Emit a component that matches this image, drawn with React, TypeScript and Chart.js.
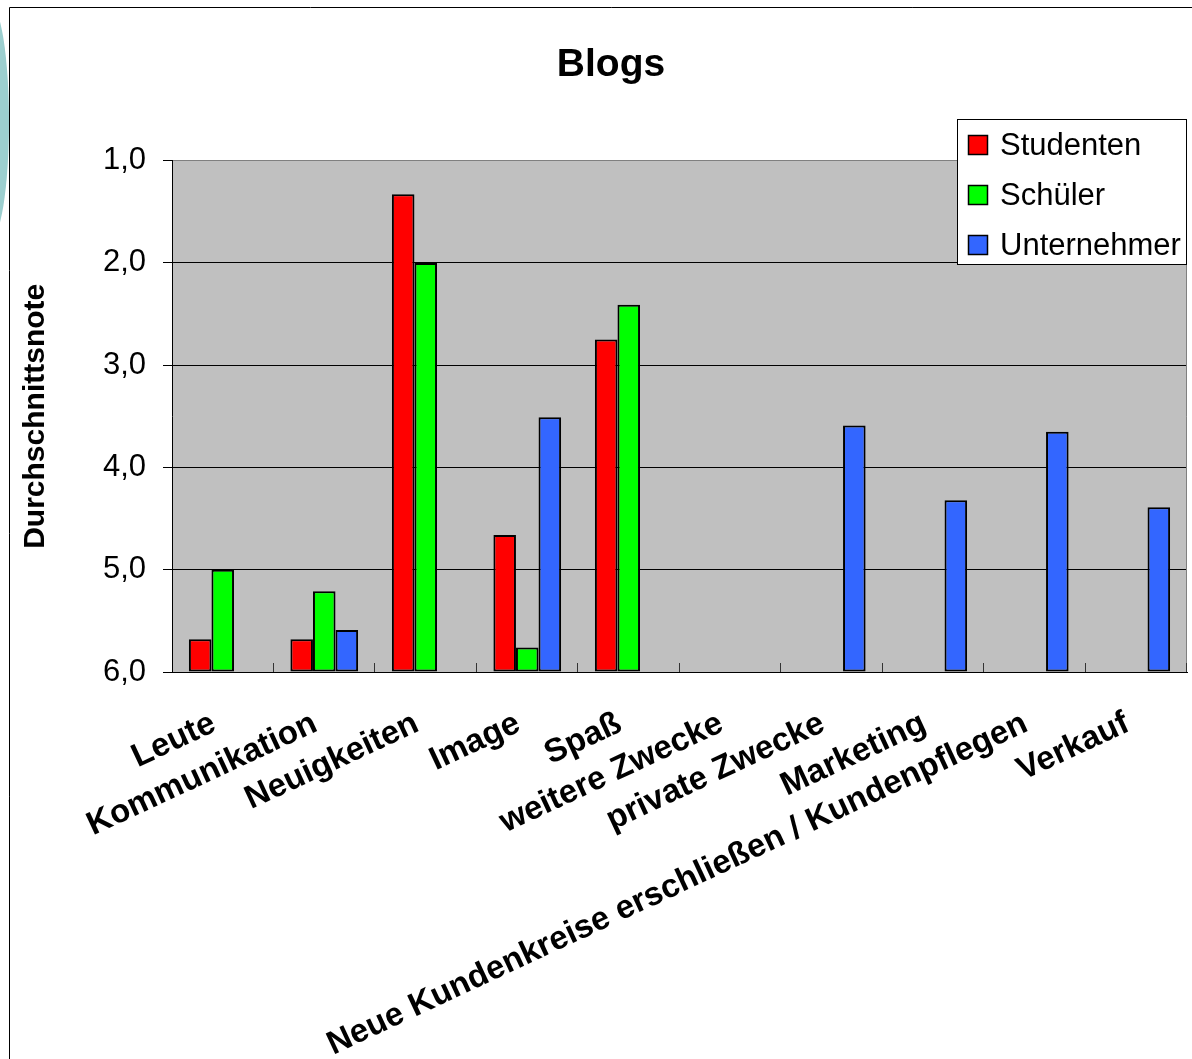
import React, { useEffect, useRef } from 'react';
import { Chart, registerables } from 'chart.js';

Chart.register(...registerables);

const categories = [
  'Leute',
  'Kommunikation',
  'Neuigkeiten',
  'Image',
  'Spaß',
  'weitere Zwecke',
  'private Zwecke',
  'Marketing',
  'Neue Kundenkreise erschließen / Kundenpflegen',
  'Verkauf',
];
const seriesNames = ['Studenten', 'Schüler', 'Unternehmer'];
const studenten = [5.68, 5.68, 1.33, 4.66, 2.75, null, null, null, null, null];
const schueler = [5.0, 5.21, 2.0, 5.76, 2.41, null, null, null, null, null];
const unternehmer = [null, 5.59, null, 3.51, null, null, 3.59, 4.32, 3.65, 4.39];
const seriesColors = ['#FF0000', '#00FF00', '#3366FF'];
const yMin = 1;
const yMax = 6;
const yStep = 1;

const FONT = 'Arial, "Liberation Sans", Helvetica, sans-serif';

const framePlugin = {
  id: 'frame',
  beforeDraw(chart: any) {
    const { ctx, chartArea, width, height } = chart;
    ctx.save();
    ctx.fillStyle = '#FFFFFF';
    ctx.fillRect(0, 0, width, height);
    ctx.strokeStyle = '#000000';
    ctx.lineWidth = 1;
    ctx.beginPath();
    ctx.moveTo(0.5, height);
    ctx.lineTo(0.5, 0.5);
    ctx.lineTo(width, 0.5);
    ctx.stroke();
    ctx.fillStyle = '#C0C0C0';
    ctx.fillRect(chartArea.left, chartArea.top, chartArea.right - chartArea.left, chartArea.bottom - chartArea.top);
    ctx.restore();
  },
  beforeDatasetsDraw(chart: any) {
    const { ctx, chartArea, scales } = chart;
    const x = scales.x;
    ctx.save();
    ctx.strokeStyle = '#808080';
    ctx.lineWidth = 1;
    ctx.beginPath();
    ctx.moveTo(chartArea.right - 0.5, chartArea.top);
    ctx.lineTo(chartArea.right - 0.5, chartArea.bottom);
    ctx.stroke();
    // inside tick marks between categories
    const n = x.ticks.length;
    const step = (x.right - x.left) / n;
    ctx.strokeStyle = '#333333';
    ctx.beginPath();
    for (let i = 1; i <= n; i++) {
      const px = Math.round(x.left + i * step) - 0.5;
      ctx.moveTo(px, chartArea.bottom);
      ctx.lineTo(px, chartArea.bottom - 9);
    }
    ctx.stroke();
    ctx.restore();
  },
  afterDraw(chart: any) {
    const { ctx } = chart;
    const box = { left: 948, top: 112, right: 1178, bottom: 258 };
    ctx.save();
    ctx.fillStyle = '#FFFFFF';
    ctx.fillRect(box.left, box.top, box.right - box.left, box.bottom - box.top);
    ctx.strokeStyle = '#000000';
    ctx.lineWidth = 1;
    ctx.strokeRect(box.left + 0.5, box.top + 0.5, box.right - box.left - 1, box.bottom - box.top - 1);
    ctx.font = `31px ${FONT}`;
    ctx.textBaseline = 'middle';
    ctx.textAlign = 'left';
    chart.data.datasets.forEach((ds: any, i: number) => {
      const cy = 138 + i * 50;
      ctx.fillStyle = ds.backgroundColor;
      ctx.fillRect(959, cy - 10, 20, 20);
      ctx.strokeStyle = '#000000';
      ctx.lineWidth = 1.5;
      ctx.strokeRect(959.5, cy - 9.5, 19, 19);
      ctx.fillStyle = '#000000';
      ctx.fillText(ds.label, 991, cy + 1);
    });
    ctx.restore();
  },
};

export default function App() {
  const canvasRef = useRef<HTMLCanvasElement | null>(null);

  useEffect(() => {
    if (!canvasRef.current) return;
    Chart.defaults.font.family = FONT;
    const seriesData = [studenten, schueler, unternehmer];
    const chart = new Chart(canvasRef.current, {
      type: 'bar',
      data: {
        labels: categories,
        datasets: seriesNames.map((name, i) => ({
          label: name,
          data: seriesData[i] as any,
          backgroundColor: seriesColors[i],
          borderColor: '#000000',
          borderWidth: 2,
          borderSkipped: false,
          base: yMax,
          categoryPercentage: 0.667,
          barPercentage: 1,
        })),
      },
      options: {
        animation: false,
        responsive: false,
        events: [],
        layout: { padding: { left: 0, right: 0, top: 0, bottom: 0 } },
        plugins: {
          legend: { display: false },
          tooltip: { enabled: false },
          title: {
            display: true,
            text: 'Blogs',
            color: '#000000',
            font: { family: FONT, size: 39, weight: 'bold' },
            padding: { top: 35, bottom: 71.8 },
          },
        },
        scales: {
          x: {
            type: 'category',
            offset: true,
            grid: { display: false, drawTicks: false, offset: true },
            border: { display: true, color: '#000000', width: 1 },
            ticks: {
              autoSkip: false,
              minRotation: 25,
              maxRotation: 25,
              padding: 32,
              labelOffset: -9,
              color: '#000000',
              font: { family: FONT, size: 33, weight: 'bold' },
            },
            afterFit: (s: any) => {
              s.height = 387;
            },
          },
          y: {
            type: 'linear',
            reverse: true,
            min: yMin,
            max: yMax,
            grid: {
              color: (c: any) => (c.tick && c.tick.value === yMin ? '#808080' : '#000000'),
              tickColor: '#000000',
              tickLength: 9,
              lineWidth: 1,
            },
            border: { display: true, color: '#000000', width: 1 },
            ticks: {
              stepSize: yStep,
              padding: 17,
              color: '#000000',
              font: { family: FONT, size: 31 },
              callback: (v: any) => Number(v).toFixed(1).replace('.', ','),
            },
            title: {
              display: true,
              text: 'Durchschnittsnote',
              color: '#000000',
              font: { family: FONT, size: 30, weight: 'bold' },
              padding: { top: 9, bottom: 0 },
            },
            afterFit: (s: any) => {
              s.width = 163;
            },
          },
          spacer: {
            type: 'linear',
            position: 'right',
            display: true,
            grid: { display: false, drawTicks: false },
            border: { display: false },
            ticks: { display: false },
            afterFit: (s: any) => {
              s.width = 26;
            },
          },
        },
      },
      plugins: [framePlugin],
    } as any);
    return () => chart.destroy();
  }, []);

  return (
    <div
      style={{
        position: 'fixed',
        left: 0,
        top: 0,
        width: 1192,
        height: 1059,
        overflow: 'hidden',
        background: '#FFFFFF',
      }}
    >
      <div
        style={{
          position: 'absolute',
          left: -29,
          top: 4,
          width: 38,
          height: 236,
          borderRadius: '50%',
          background: '#9CCFCF',
        }}
      />
      <canvas
        ref={canvasRef}
        width={1204}
        height={1052}
        style={{ position: 'absolute', left: 9, top: 7, width: 1204, height: 1052, display: 'block' }}
      />
    </div>
  );
}
